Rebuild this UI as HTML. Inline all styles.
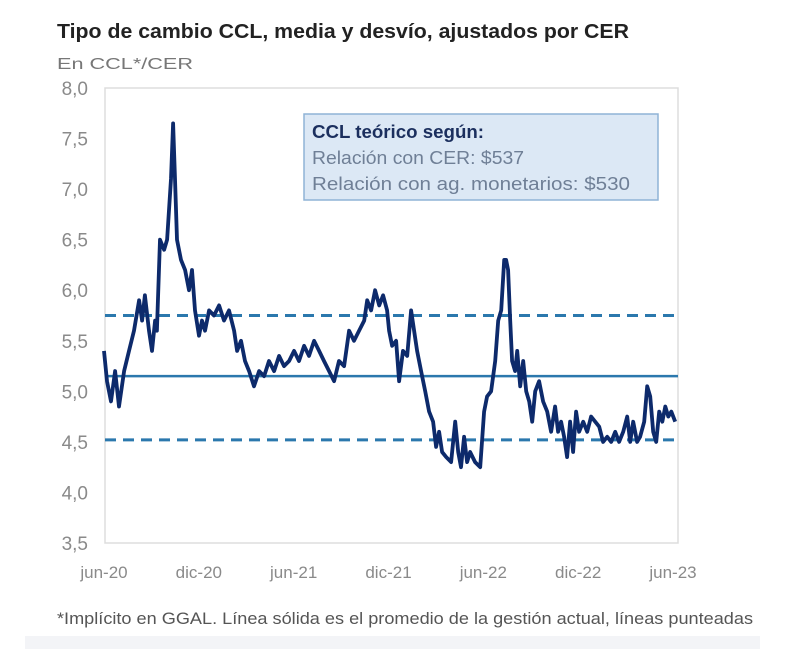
<!DOCTYPE html>
<html><head><meta charset="utf-8"><style>
body{margin:0;background:#fff;width:800px;height:649px;overflow:hidden;font-family:"Liberation Sans",sans-serif}
</style></head><body>
<svg width="800" height="649">
<text x="57" y="38" font-size="20" font-weight="bold" fill="#222" textLength="572" lengthAdjust="spacingAndGlyphs">Tipo de cambio CCL, media y desvío, ajustados por CER</text>
<text x="57" y="69" font-size="16" fill="#777" textLength="136" lengthAdjust="spacingAndGlyphs">En CCL*/CER</text>
<rect x="105" y="88" width="573" height="455" fill="#fff" stroke="#ddd" stroke-width="1.5"/>
<g id="yt"></g><g id="xt"></g><g id="refs"></g><g id="ser"></g>
<g>
<rect x="304" y="114" width="354" height="86" fill="#dce8f5" stroke="#8fb3d6" stroke-width="1.5"/>
<text x="312" y="138" font-size="18" font-weight="bold" fill="#1b2f5e" textLength="172" lengthAdjust="spacingAndGlyphs">CCL teórico según:</text>
<text x="312" y="164" font-size="18" fill="#6f7f96" textLength="212" lengthAdjust="spacingAndGlyphs">Relación con CER: $537</text>
<text x="312" y="190" font-size="18" fill="#6f7f96" textLength="318" lengthAdjust="spacingAndGlyphs">Relación con ag. monetarios: $530</text>
</g>
<text x="57" y="624" font-size="17" fill="#555" textLength="696" lengthAdjust="spacingAndGlyphs">*Implícito en GGAL. Línea sólida es el promedio de la gestión actual, líneas punteadas</text>
<rect x="25" y="636" width="735" height="13" fill="#f3f4f7"/>
</svg>
<script>
const yTicks=[3.5,4.0,4.5,5.0,5.5,6.0,6.5,7.0,7.5,8.0];
const xLabels=["jun-20","dic-20","jun-21","dic-21","jun-22","dic-22","jun-23"];
const xLabelMonths=[0,6,12,18,24,30,36];
const meanValue=5.15, upperValue=5.75, lowerValue=4.52;
const pxs=[105,108,112,116,120,125,130,135,140,143,146,150,153,156,158,161,165,168,172,174,176,178,182,186,190,193,196,200,203,206,210,215,220,225,230,235,238,242,246,250,255,260,265,270,275,280,285,290,295,300,305,310,315,320,325,330,335,340,345,350,355,360,365,368,372,376,380,384,388,390,393,397,400,404,408,412,415,418,422,426,430,434,437,440,443,447,452,456,459,462,465,468,471,476,481,485,488,492,496,499,502,505,507,509,511,513,516,518,521,524,527,530,533,536,540,544,548,552,556,559,562,565,568,571,574,577,580,584,588,592,596,600,604,608,612,616,620,624,628,631,634,638,641,645,648,651,654,657,660,663,666,669,672,676];
const months=pxs.map(p=>Math.round((p-105)/15.8*100)/100);
const values=[5.4,5.1,4.9,5.2,4.85,5.2,5.4,5.6,5.9,5.7,5.95,5.6,5.4,5.7,5.6,6.5,6.4,6.5,7.1,7.65,7.1,6.5,6.3,6.2,6.0,6.2,5.8,5.55,5.7,5.6,5.8,5.75,5.85,5.7,5.8,5.6,5.4,5.5,5.3,5.2,5.05,5.2,5.15,5.3,5.2,5.35,5.25,5.3,5.4,5.3,5.45,5.35,5.5,5.4,5.3,5.2,5.1,5.3,5.25,5.6,5.5,5.6,5.7,5.9,5.8,6.0,5.85,5.95,5.8,5.6,5.45,5.5,5.1,5.4,5.35,5.8,5.6,5.4,5.2,5.0,4.8,4.7,4.45,4.6,4.4,4.35,4.3,4.7,4.4,4.25,4.55,4.3,4.4,4.3,4.25,4.8,4.95,5.0,5.3,5.7,5.8,6.3,6.3,6.2,5.7,5.3,5.2,5.4,5.05,5.3,5.0,4.9,4.7,5.0,5.1,4.9,4.8,4.6,4.85,4.6,4.7,4.55,4.35,4.7,4.4,4.8,4.6,4.7,4.6,4.75,4.7,4.65,4.5,4.55,4.5,4.6,4.5,4.6,4.75,4.5,4.7,4.5,4.55,4.7,5.05,4.95,4.6,4.5,4.8,4.7,4.85,4.75,4.8,4.7];
const NS="http://www.w3.org/2000/svg";
const L=105,R=678,T=88,B=543;
const y=v=>T+(8-v)/4.5*(B-T);
const x=m=>104+m*(673-104)/36;
function mk(t,a,p){const e=document.createElementNS(NS,t);for(const k in a)e.setAttribute(k,a[k]);p.appendChild(e);return e;}
const yt=document.getElementById('yt');
yTicks.forEach(v=>{const t=mk('text',{x:88,y:y(v)+7,'font-size':19,fill:'#8a8a8a','text-anchor':'end'},yt);t.textContent=v.toFixed(1).replace('.',',');

});
const xt=document.getElementById('xt');
xLabels.forEach((s,i)=>{const t=mk('text',{x:x(xLabelMonths[i]),y:578,'font-size':17,fill:'#8a8a8a','text-anchor':'middle'},xt);t.textContent=s;

});
const rf=document.getElementById('refs');
const m=mk('line',{x1:L,x2:R,y1:y(meanValue),y2:y(meanValue),stroke:'#2b78ad','stroke-width':2.5},rf);


const u=mk('line',{x1:L,x2:R,y1:y(upperValue),y2:y(upperValue),stroke:'#2b78ad','stroke-width':3,'stroke-dasharray':'11 7'},rf);


const lo=mk('line',{x1:L,x2:R,y1:y(lowerValue),y2:y(lowerValue),stroke:'#2b78ad','stroke-width':3,'stroke-dasharray':'11 7'},rf);


const d=values.map((v,i)=>(i?'L':'M')+x(months[i]).toFixed(1)+','+y(v).toFixed(1)).join('');
const p=mk('path',{d:d,fill:'none',stroke:'#0d2a6b','stroke-width':3.8,'stroke-linejoin':'round'},document.getElementById('ser'));


</script>
</body></html>
